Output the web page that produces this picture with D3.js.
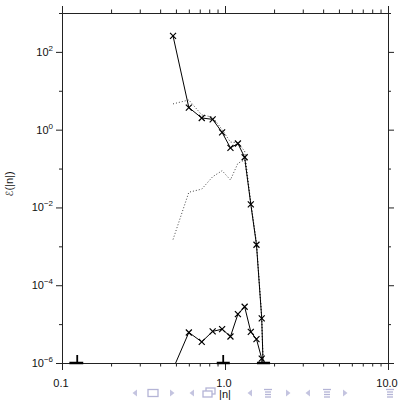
<!DOCTYPE html>
<html>

<head>
    <meta charset="UTF-8">
    <title></title>
    <style>
        body {
            margin: 0;
            background: #fff;
            font-family: 'Liberation Sans', Helvetica, sans-serif;
        }

        .axis path,
        .axis line {
            stroke: #222;
            stroke-width: 1;
        }

        .ticklabel {
            font-size: 11px;
            fill: #111;
        }

        .nav {
            fill: none;
            stroke: #b4b4d6;
            stroke-width: 1.3;
        }
    </style>
</head>

<body>
    <svg id="chart" width="401" height="400"></svg>
    <script src="https://d3js.org/d3.v7.min.js"></script>
    <script>
        /// data

        var kGrid = [0.48, 0.60, 0.72, 0.84, 0.96, 1.08, 1.20, 1.32, 1.44, 1.56, 1.68, 1.80];
        var energyHigh = [257, 3.7, 2.0, 1.84, 0.85, 0.34, 0.44, 0.195, 0.012, 1.1e-3, 1.4e-5, 1e-9];
        var energyLow = [7e-7, 6.1e-6, 3.5e-6, 6.5e-6, 7.4e-6, 4.8e-6, 1.8e-5, 2.8e-5, 6.3e-6, 4.1e-6, 1.3e-6, 1e-9];
        var energyDotA = [4.6, 5.8, 2.4, 2.1, 1.0, 0.48, 0.46, 0.28, 0.013, 1.2e-3, 1.5e-5, 1e-9];
        var energyDotB = [1.5e-3, 0.0246, 0.0296, 0.0617, 0.088, 0.051, 0.137, 0.166, 0.013, 1.2e-3, 1.5e-5, 1e-9];

        // marks sitting on the lower frame
        var floorSegs = [[0.111, 0.135], [0.89, 1.07], [1.57, 1.89]];
        var floorTicks = [0.124, 0.975];

        var xMajor = [0.1, 1, 10];
        var xMajorLabels = ["0.1", "1.0", "10.0"];
        var xMinor = [0.2, 0.3, 0.4, 0.5, 0.6, 0.7, 0.8, 0.9, 2, 3, 4, 5, 6, 7, 8, 9];
        var yMajor = [1e-6, 1e-4, 1e-2, 1, 1e2];
        var yMajorExp = ["\u22126", "\u22124", "\u22122", "0", "2"];
        var yMinor = [1e-5, 1e-3, 1e-1, 1e1, 1e3];

        /// main

        var margin = { top: 13, right: 13, bottom: 37, left: 62 };
        var width = 401, height = 400;

        var svg = d3.select("#chart");

        var x = d3.scaleLog().domain([0.1, 10]).range([margin.left, width - margin.right]);
        var y = d3.scaleLog().domain([1e-6, 1e3]).range([height - margin.bottom, margin.top]);

        svg.append("clipPath").attr("id", "plotclip")
            .append("rect")
            .attr("x", margin.left).attr("y", margin.top)
            .attr("width", width - margin.left - margin.right)
            .attr("height", height - margin.top - margin.bottom);

        // axes (major + minor ticks on all four sides, ticks pointing out)
        function addAxis(axisFn, scale, vals, size, tr) {
            svg.append("g")
                .attr("class", "axis")
                .attr("transform", tr)
                .call(axisFn(scale).tickValues(vals).tickSize(size).tickSizeOuter(0).tickFormat(""));
        }
        var bottomTr = "translate(0," + (height - margin.bottom) + ")";
        var topTr = "translate(0," + margin.top + ")";
        var leftTr = "translate(" + margin.left + ",0)";
        var rightTr = "translate(" + (width - margin.right) + ",0)";

        addAxis(d3.axisBottom, x, xMinor, 3.5, bottomTr);
        addAxis(d3.axisBottom, x, xMajor, 7, bottomTr);
        addAxis(d3.axisTop, x, xMinor, 3.5, topTr);
        addAxis(d3.axisTop, x, xMajor, 7, topTr);
        addAxis(d3.axisLeft, y, yMinor, 3, leftTr);
        addAxis(d3.axisLeft, y, yMajor, 6, leftTr);
        addAxis(d3.axisRight, y, yMinor, 3, rightTr);
        addAxis(d3.axisRight, y, yMajor, 6, rightTr);

        // tick labels
        svg.append("g").selectAll("text")
            .data(xMajor)
            .enter().append("text")
            .attr("class", "ticklabel")
            .attr("x", function(d) { return x(d) - 1; })
            .attr("y", height - margin.bottom + 24)
            .attr("text-anchor", "middle")
            .text(function(d, i) { return xMajorLabels[i]; });

        var ylab = svg.append("g").selectAll("text")
            .data(yMajor)
            .enter().append("text")
            .attr("class", "ticklabel")
            .attr("x", margin.left - 9)
            .attr("y", function(d) { return y(d) + 4; })
            .attr("text-anchor", "end");
        ylab.append("tspan").text("10");
        ylab.append("tspan")
            .attr("dy", -5)
            .attr("font-size", "8px")
            .text(function(d, i) { return yMajorExp[i]; });

        // axis titles
        var ytitle = svg.append("text")
            .attr("class", "ticklabel")
            .attr("transform", "translate(13,184) rotate(-90)")
            .attr("text-anchor", "middle");
        ytitle.append("tspan")
            .attr("font-family", "'DejaVu Sans', sans-serif")
            .attr("font-size", "10px")
            .text("\u2130");
        ytitle.append("tspan").text("(|n|)");

        // data layer
        var plot = svg.append("g").attr("clip-path", "url(#plotclip)");

        var line = d3.line()
            .x(function(d) { return x(d[0]); })
            .y(function(d) { return y(d[1]); });

        function pairs(vals) {
            return kGrid.map(function(k, i) { return [k, vals[i]]; });
        }

        plot.append("path")
            .datum(pairs(energyDotA))
            .attr("d", line)
            .attr("fill", "none")
            .attr("stroke", "#444")
            .attr("stroke-width", 1)
            .attr("stroke-dasharray", "1,2");

        plot.append("path")
            .datum(pairs(energyDotB))
            .attr("d", line)
            .attr("fill", "none")
            .attr("stroke", "#444")
            .attr("stroke-width", 1)
            .attr("stroke-dasharray", "1,2");

        [energyHigh, energyLow].forEach(function(vals) {
            var pts = pairs(vals);
            plot.append("path")
                .datum(pts)
                .attr("d", line)
                .attr("fill", "none")
                .attr("stroke", "#000")
                .attr("stroke-width", 1);

            plot.append("g").selectAll("path")
                .data(pts.filter(function(d) { return d[1] >= 1e-6; }))
                .enter().append("path")
                .attr("transform", function(d) { return "translate(" + x(d[0]) + "," + y(d[1]) + ")"; })
                .attr("d", "M-3,-3L3,3M-3,3L3,-3")
                .attr("stroke", "#000")
                .attr("stroke-width", 1.2);
        });

        // floor marks
        svg.append("g").selectAll("line")
            .data(floorSegs)
            .enter().append("line")
            .attr("x1", function(d) { return x(d[0]); })
            .attr("x2", function(d) { return x(d[1]); })
            .attr("y1", y(1e-6)).attr("y2", y(1e-6))
            .attr("stroke", "#000")
            .attr("stroke-width", 2.5);

        svg.append("g").selectAll("line")
            .data(floorTicks)
            .enter().append("line")
            .attr("x1", function(d) { return x(d); })
            .attr("x2", function(d) { return x(d); })
            .attr("y1", y(1e-6) - 8).attr("y2", y(1e-6))
            .attr("stroke", "#000")
            .attr("stroke-width", 1.8);

        // beamer navigation symbols along the bottom
        var nav = svg.append("g").attr("class", "nav");
        var ny = 393;
        function triL(cx) { nav.append("path").attr("d", "M" + (cx + 2) + "," + (ny - 3.5) + "L" + (cx - 2.5) + "," + ny + "L" + (cx + 2) + "," + (ny + 3.5) + "Z").attr("fill", "#c4c4e0").attr("stroke", "none"); }
        function triR(cx) { nav.append("path").attr("d", "M" + (cx - 2) + "," + (ny - 3.5) + "L" + (cx + 2.5) + "," + ny + "L" + (cx - 2) + "," + (ny + 3.5) + "Z").attr("fill", "#c4c4e0").attr("stroke", "none"); }
        function lines(cx) {
            [-3.5, -1, 1.5, 4].forEach(function(o, i) {
                nav.append("line").attr("x1", cx - (i == 0 ? 4 : 3)).attr("x2", cx + (i == 0 ? 4 : 3))
                    .attr("y1", ny + o).attr("y2", ny + o);
            });
        }
        triL(135);
        nav.append("rect").attr("x", 148).attr("y", ny - 3.5).attr("width", 10).attr("height", 7);
        triR(172);
        triL(192);
        nav.append("rect").attr("x", 206).attr("y", ny - 5).attr("width", 9).attr("height", 6);
        nav.append("rect").attr("x", 203).attr("y", ny - 2).attr("width", 9).attr("height", 6).attr("fill", "#fff");
        triL(250);
        lines(268);
        triR(288);
        triL(308);
        lines(327);
        triR(345);
        lines(390);

        svg.append("text")
            .attr("class", "ticklabel")
            .attr("x", x(1))
            .attr("y", 398)
            .attr("text-anchor", "middle")
            .text("|n|");
    </script>
</body>

</html>
